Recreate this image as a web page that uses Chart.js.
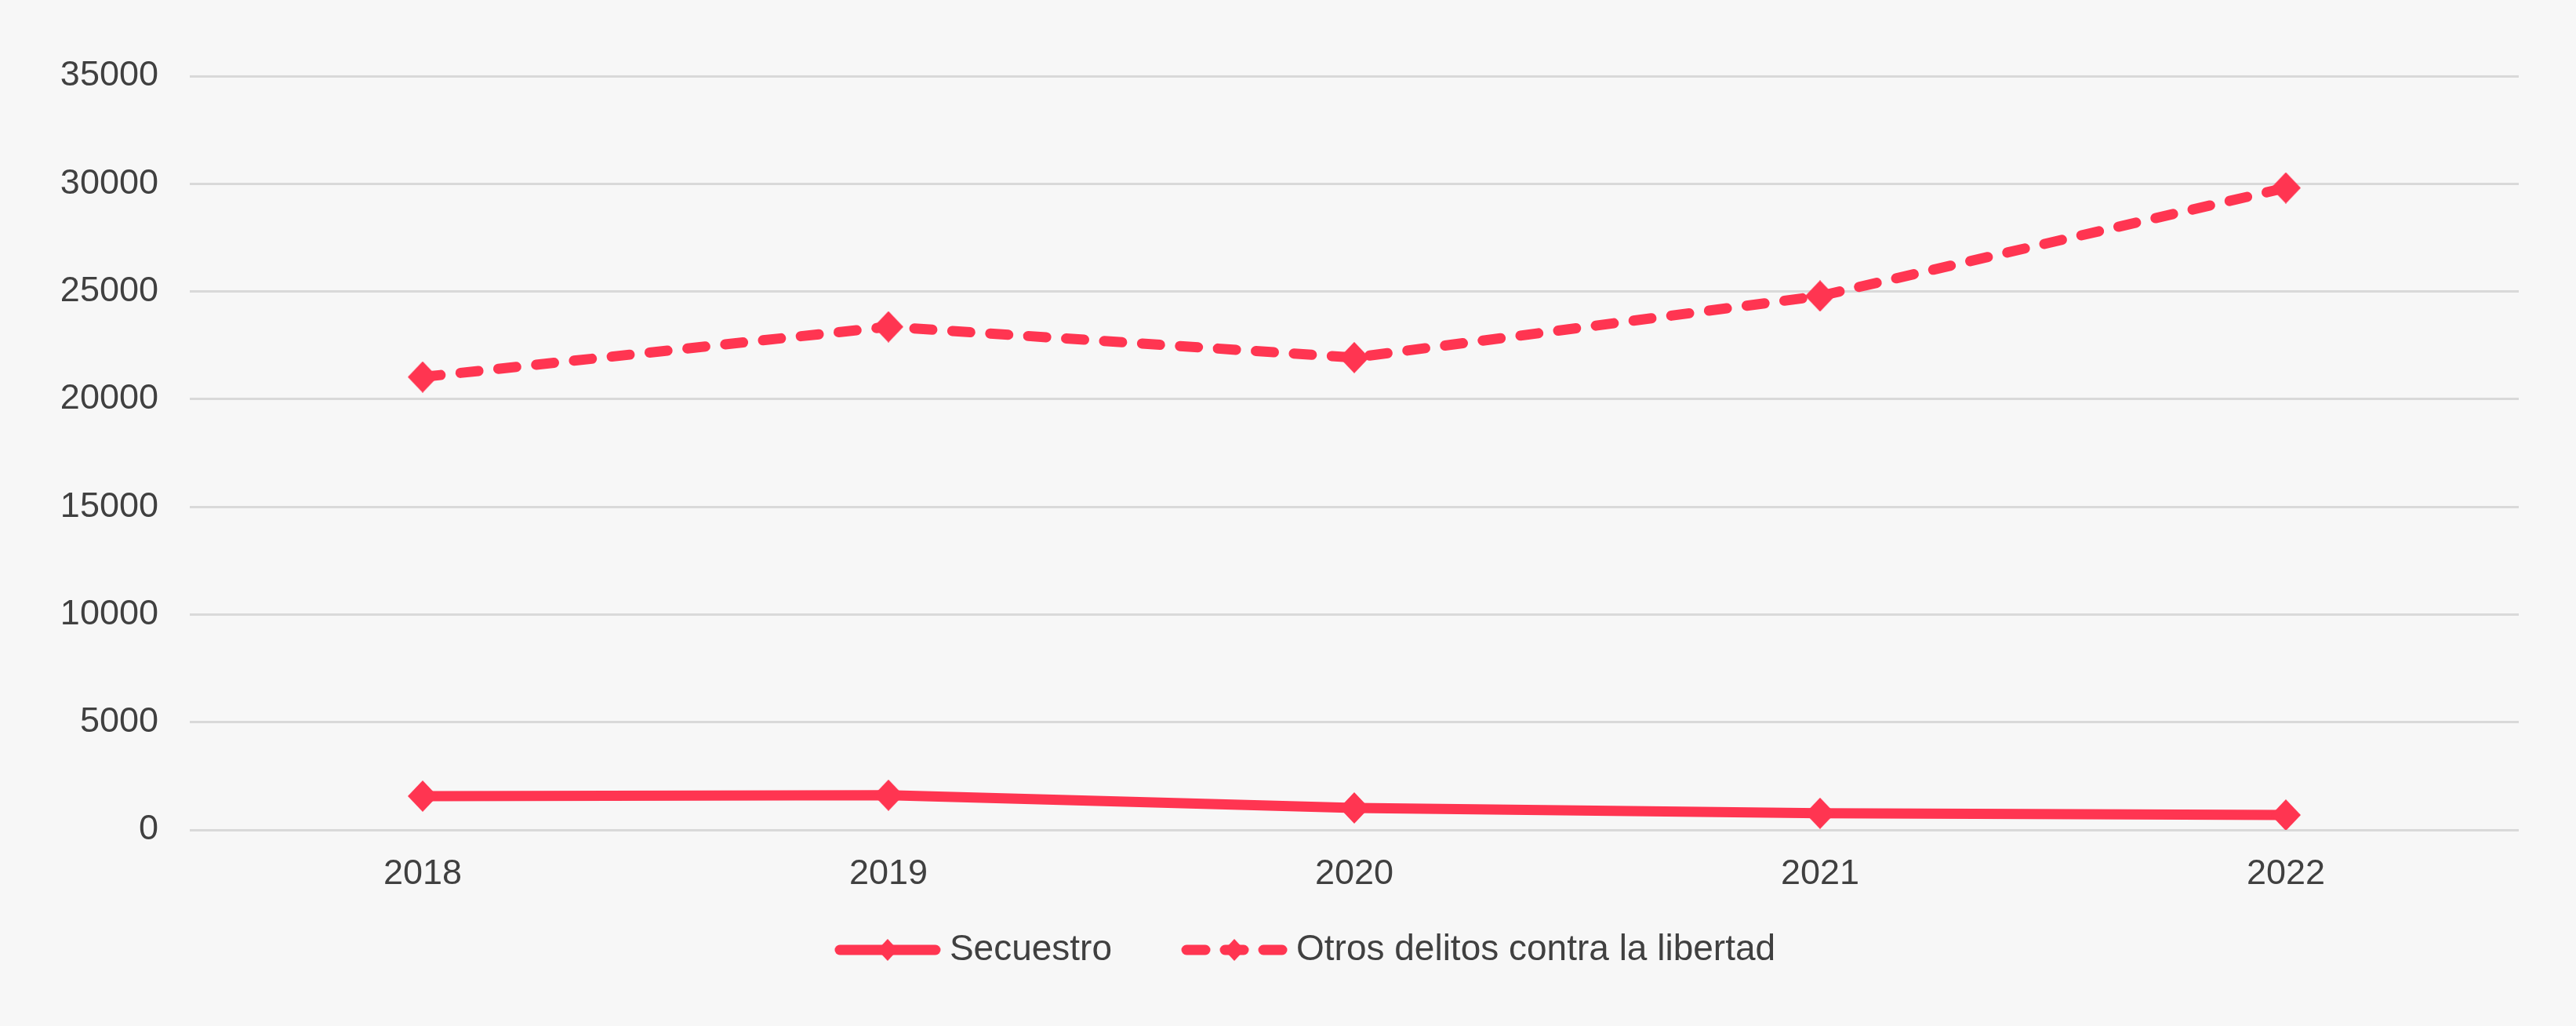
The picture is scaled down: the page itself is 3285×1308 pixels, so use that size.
<!DOCTYPE html>
<html>
<head>
<meta charset="utf-8">
<title>Secuestro y otros delitos contra la libertad</title>
<script src="https://cdn.jsdelivr.net/npm/chart.js@4.4.1/dist/chart.umd.min.js"></script>
<style>
  html, body { margin: 0; padding: 0; background: #f7f7f7; }
  #chart-box { width: 3285px; height: 1308px; }
</style>
</head>
<body>
<div id="chart-box"><canvas id="chart" width="3285" height="1308"></canvas></div>
<script>
// datos
const years = ['2018', '2019', '2020', '2021', '2022'];
const secuestro = [1570, 1610, 1020, 770, 690];
const otrosDelitos = [21030, 23360, 21930, 24790, 29810];
const seriesNames = ['Secuestro', 'Otros delitos contra la libertad'];
const yTicks = [0, 5000, 10000, 15000, 20000, 25000, 30000, 35000];

const red = '#ff3551';
const textColor = '#404040';
const fontFamily = "'Liberation Sans', Arial, sans-serif";

function drawDiamond(ctx, cx, cy, hw, hh) {
  ctx.beginPath();
  ctx.moveTo(cx, cy - hh);
  ctx.lineTo(cx + hw, cy);
  ctx.lineTo(cx, cy + hh);
  ctx.lineTo(cx - hw, cy);
  ctx.closePath();
  ctx.fill();
}

// marker used on the data points
function markerIcon() {
  const c = document.createElement('canvas');
  c.width = 38;
  c.height = 40;
  const ctx = c.getContext('2d');
  ctx.fillStyle = red;
  drawDiamond(ctx, 19, 20, 19, 20);
  return c;
}

// legend symbol: line (solid or dashed) with a diamond in the middle.
// The canvas has a transparent strip on the left so the items sit
// further apart than the legend padding alone would give.
function legendIcon(dashed) {
  const c = document.createElement('canvas');
  c.width = 187;
  c.height = 40;
  const ctx = c.getContext('2d');
  const ox = c.width - 136;
  const mid = ox + 68;
  ctx.strokeStyle = red;
  ctx.fillStyle = red;
  ctx.lineWidth = 13;
  ctx.lineCap = 'round';
  ctx.beginPath();
  if (dashed) {
    ctx.moveTo(ox + 7, 20); ctx.lineTo(ox + 31, 20);
    ctx.moveTo(mid - 12, 20); ctx.lineTo(mid + 12, 20);
    ctx.moveTo(ox + 105, 20); ctx.lineTo(ox + 129, 20);
  } else {
    ctx.moveTo(ox + 7, 20); ctx.lineTo(ox + 129, 20);
  }
  ctx.stroke();
  drawDiamond(ctx, mid, 20, 13, 14);
  return c;
}

const marker = markerIcon();
const icons = [legendIcon(false), legendIcon(true)];

const chart = new Chart(document.getElementById('chart'), {
  type: 'line',
  data: {
    labels: years,
    datasets: [
      {
        label: seriesNames[0],
        data: secuestro,
        borderColor: red,
        backgroundColor: red,
        borderWidth: 13,
        pointStyle: marker,
        pointRadius: 20,
        pointHoverRadius: 20,
        tension: 0
      },
      {
        label: seriesNames[1],
        data: otrosDelitos,
        borderColor: red,
        backgroundColor: red,
        borderWidth: 13,
        borderDash: [23, 25.5],
        borderCapStyle: 'round',
        pointStyle: marker,
        pointRadius: 20,
        pointHoverRadius: 20,
        tension: 0
      }
    ]
  },
  options: {
    responsive: false,
    animation: false,
    layout: { padding: { top: 97, left: 77, right: 73, bottom: 64 } },
    scales: {
      x: {
        offset: true,
        grid: { display: false },
        border: { display: false },
        ticks: { color: textColor, padding: 22, font: { family: fontFamily, size: 45 } },
        afterFit: s => { s.height = 81; }
      },
      y: {
        min: yTicks[0],
        max: yTicks[yTicks.length - 1],
        grid: { color: '#d9d9d9', lineWidth: 3, drawTicks: false },
        border: { display: false },
        ticks: {
          stepSize: yTicks[1] - yTicks[0],
          padding: 40,
          color: textColor,
          font: { family: fontFamily, size: 45 },
          callback: v => String(v)
        },
        afterFit: s => { s.width = 165; }
      }
    },
    plugins: {
      tooltip: { enabled: false },
      legend: {
        position: 'bottom',
        labels: {
          usePointStyle: true,
          pointStyleWidth: 163,
          padding: 49,
          color: textColor,
          font: { family: fontFamily, size: 46 },
          generateLabels: ch => {
            const items = Chart.defaults.plugins.legend.labels.generateLabels(ch);
            items.forEach((it, i) => { it.pointStyle = icons[i]; });
            return items;
          }
        }
      }
    }
  }
});
</script>
</body>
</html>
